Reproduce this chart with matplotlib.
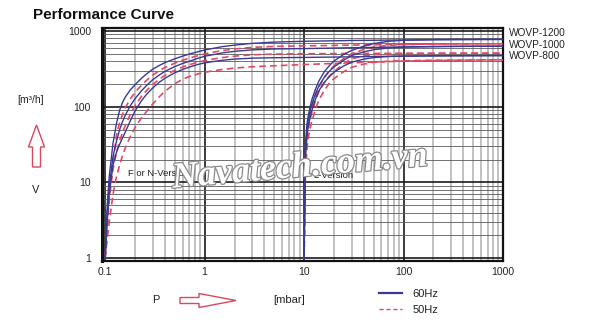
import matplotlib
matplotlib.use("Agg")
import matplotlib.pyplot as plt
import matplotlib.patheffects as pe
from matplotlib.patches import Polygon
from matplotlib.ticker import FixedLocator, FixedFormatter, LogLocator, NullFormatter
from matplotlib.lines import Line2D

plt.rcParams['font.family'] = ['Liberation Sans', 'DejaVu Sans']

# ---------------- data ----------------
models = ["WOVP-1200", "WOVP-1000", "WOVP-800"]
x_ticks = [0.1, 1, 10, 100, 1000]
x_tick_labels = ["0.1", "1", "10", "100", "1000"]
y_ticks = [1, 10, 100, 1000]
y_tick_labels = ["1", "10", "100", "1000"]

# F or N-Version (pressure in mbar, pumping speed in m3/h)
p_fn = [0.1, 0.105, 0.11, 0.12, 0.13, 0.14, 0.15, 0.16, 0.18, 0.2, 0.23, 0.26, 0.3, 0.35, 0.4,
        0.5, 0.6, 0.7, 0.85, 1, 1.5, 2, 3, 5, 10, 30, 100, 300, 1000]
fn_60_1200 = [1, 5, 12, 33, 60, 90, 115, 135, 168, 195, 235, 270, 312, 350, 382,
              428, 465, 495, 530, 560, 620, 650, 685, 712, 730, 748, 760, 768, 771]
fn_50_1200 = [1, 3, 7, 18, 42, 62, 80, 98, 128, 155, 190, 222, 260, 298, 330,
              375, 410, 437, 470, 499, 550, 578, 607, 625, 635, 650, 665, 672, 677]
fn_60_1000 = [1, 4, 9, 22, 35, 50, 64, 78, 104, 128, 160, 190, 226, 262, 293,
              338, 372, 398, 433, 463, 512, 538, 562, 578, 585, 600, 615, 624, 629]
fn_50_1000 = [1, 2.5, 6, 15, 25, 36, 46, 57, 80, 104, 135, 163, 196, 230, 260,
              302, 333, 357, 385, 406, 445, 465, 484, 495, 500, 504, 506, 507, 508]
fn_60_800 = [1, 3, 7, 17, 25, 32, 39, 47, 66, 88, 118, 145, 176, 210, 238,
             280, 310, 333, 360, 379, 410, 425, 437, 443, 447, 455, 465, 470, 473]
fn_50_800 = [1, 1.8, 3, 7, 12, 17, 23, 29, 41, 53, 70, 86, 108, 135, 160,
             200, 230, 250, 270, 285, 310, 323, 337, 347, 360, 380, 400, 410, 416]

# L-Version
p_l = [10, 10.3, 10.7, 11, 11.5, 12, 13, 14, 16, 18, 20, 25, 30, 40, 50, 70, 100, 200, 500, 1000]
l_60_1200 = [1, 30, 60, 75, 100, 125, 170, 215, 290, 350, 400, 490, 552, 630, 680, 730, 752, 768, 773, 775]
l_50_1200 = [1, 22, 45, 60, 80, 100, 140, 180, 245, 300, 345, 430, 499, 570, 610, 645, 660, 672, 676, 677]
l_60_1000 = [1, 25, 50, 65, 88, 108, 148, 185, 245, 295, 335, 410, 473, 530, 565, 595, 612, 623, 628, 629]
l_50_1000 = [1, 18, 38, 50, 68, 85, 120, 155, 210, 255, 290, 370, 428, 470, 488, 498, 503, 506, 508, 508]
l_60_800 = [1, 20, 40, 55, 72, 90, 125, 160, 210, 250, 285, 345, 386, 425, 445, 460, 466, 470, 472, 473]
l_50_800 = [1, 12, 28, 38, 52, 65, 92, 120, 165, 205, 235, 290, 331, 365, 385, 398, 405, 410, 414, 416]

fn_60 = [fn_60_1200, fn_60_1000, fn_60_800]
fn_50 = [fn_50_1200, fn_50_1000, fn_50_800]
l_60 = [l_60_1200, l_60_1000, l_60_800]
l_50 = [l_50_1200, l_50_1000, l_50_800]

# ---------------- style ----------------
C60 = '#3a3a92'
C50 = '#de4a66'
RED = '#d8485c'
W, H = 600, 326

fig = plt.figure(figsize=(6.0, 3.26), dpi=100)
ax = fig.add_axes([102 / W, 1 - 261 / H, (503 - 102) / W, (261 - 27.5) / H])
ax.set_xscale('log')
ax.set_yscale('log')
ax.set_xlim(0.093, 1000)
ax.set_ylim(0.92, 1110)

for grp_p, g60, g50 in [(p_fn, fn_60, fn_50), (p_l, l_60, l_50)]:
    for v50 in g50:
        ax.plot(grp_p, v50, color=C50, lw=1.2, ls=(0, (4, 2.5)), zorder=3)
    for v60 in g60:
        ax.plot(grp_p, v60, color=C60, lw=1.0, zorder=4)

ax.xaxis.set_major_locator(FixedLocator(x_ticks))
ax.xaxis.set_major_formatter(FixedFormatter(x_tick_labels))
ax.yaxis.set_major_locator(FixedLocator(y_ticks))
ax.yaxis.set_major_formatter(FixedFormatter(y_tick_labels))
ax.xaxis.set_minor_locator(LogLocator(base=10, subs=range(2, 10)))
ax.yaxis.set_minor_locator(LogLocator(base=10, subs=range(2, 10)))
ax.xaxis.set_minor_formatter(NullFormatter())
ax.yaxis.set_minor_formatter(NullFormatter())
ax.tick_params(which='both', length=0, labelsize=7.5, colors='#222222')
ax.tick_params(axis='y', pad=8)
ax.tick_params(axis='x', pad=4)

ax.set_axisbelow(True)
ax.grid(which='minor', axis='x', color='#bcbcbc', lw=1.3)
ax.grid(which='minor', axis='y', color='#5a5a5a', lw=0.6)
ax.grid(which='major', axis='both', color='#1a1a1a', lw=1.2)
for s in ax.spines.values():
    s.set_color('#111111')
    s.set_linewidth(1.6)
ax.spines['left'].set_linewidth(2.2)

ov = fig.add_axes([0, 0, 1, 1])
ov.set_xlim(0, W)
ov.set_ylim(H, 0)
ov.axis('off')
ov.patch.set_alpha(0)

for name, yy in zip(models, [33, 45, 56]):
    ov.text(509, yy, name, fontsize=7.3, color='#222222', va='center', ha='left')

ov.text(33, 15, "Performance Curve", fontsize=11, fontweight='bold', va='center', ha='left', color='#111111')
ov.text(17, 100, "[m³/h]", fontsize=7.5, va='center', ha='left', color='#222222')
ov.text(36, 190, "V", fontsize=8, va='center', ha='center', color='#222222')
ov.text(156, 300, "P", fontsize=8, va='center', ha='center', color='#222222')
ov.text(273, 300, "[mbar]", fontsize=8, va='center', ha='left', color='#222222')
ov.text(128, 174, "F or N-Version", fontsize=6.8, va='center', ha='left', color='#222222')
ov.text(313, 175, "L-Version", fontsize=6.8, va='center', ha='left', color='#222222')

# arrows
up = [(36.5, 125), (44.5, 147), (40.5, 147), (40.5, 167), (32.5, 167), (32.5, 147), (28.5, 147)]
ov.add_patch(Polygon(up, closed=True, fill=False, edgecolor=RED, lw=1.0))
right = [(236, 300.5), (199, 293.5), (199, 297.5), (180, 297.5), (180, 303.5), (199, 303.5), (199, 307.5)]
ov.add_patch(Polygon(right, closed=True, fill=False, edgecolor=RED, lw=1.0))

# watermark
ov.text(300, 168, "Navatech.com.vn", fontsize=26, family='Liberation Serif', style='italic',
        fontweight='bold', color='white', rotation=5, ha='center', va='center', zorder=10,
        path_effects=[pe.withStroke(linewidth=1.8, foreground='#8a8a8a')])

# frequency legend
handles = [Line2D([], [], color=C60, lw=1.6), Line2D([], [], color=C50, lw=1.0, ls=(0, (3, 2)))]
fig.legend(handles, ["60Hz", "50Hz"], loc='upper left', bbox_to_anchor=(369 / W, 1 - 279 / H),
           frameon=False, fontsize=8, handlelength=2.1, handletextpad=0.9, labelspacing=0.55,
           labelcolor='#222222')

fig.savefig("out.png", dpi=100)
